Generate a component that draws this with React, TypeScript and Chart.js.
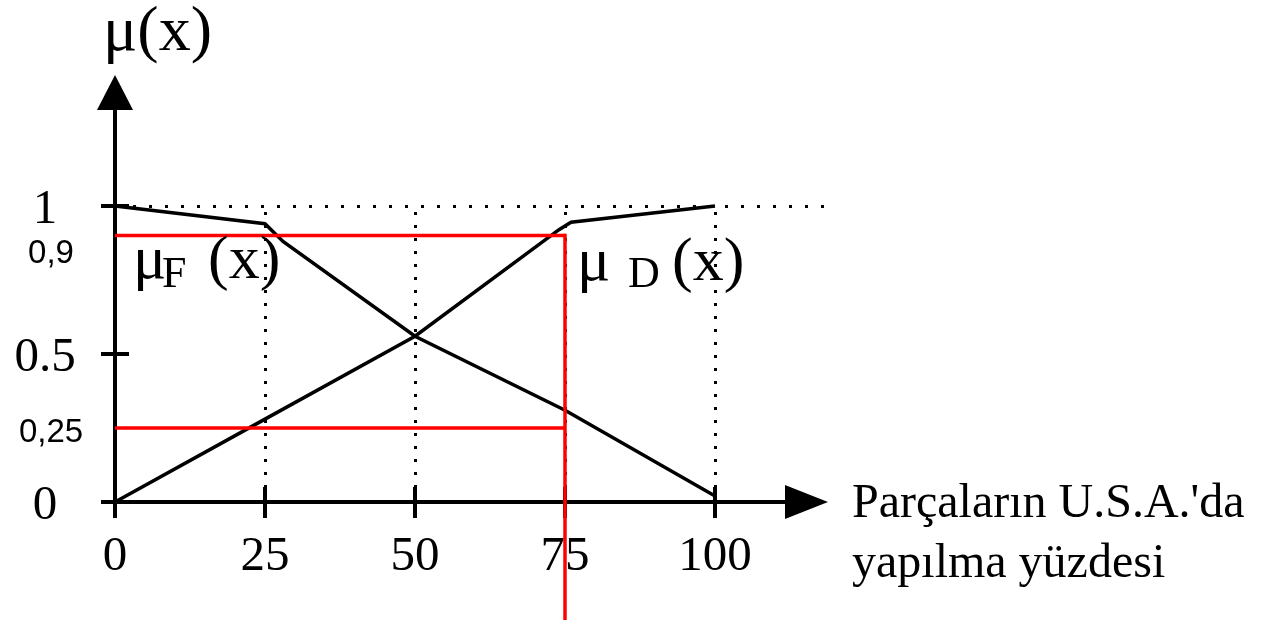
import React, { useEffect, useRef } from "react";
import { Chart, registerables } from "chart.js";

Chart.register(...registerables);

// Membership functions: share of parts made in the U.S.A. (0–100 %)
const xTicks = [0, 25, 50, 75, 100];
const yTicks = [0, 0.5, 1];
const yTickLabels = ["0", "0.5", "1"];
const guideXs = [25, 50, 75, 100];

const muFx = [0, 25, 28, 50, 75, 100];
const muFy = [1, 0.94, 0.88, 0.56, 0.31, 0.02];

const muDx = [0, 25, 50, 74, 76, 100];
const muDy = [0, 0.28, 0.56, 0.92, 0.945, 1];

const markX = 75;
const markLevels = [0.9, 0.25];
const markLabels = ["0,9", "0,25"];

const SERIF = "'Liberation Serif', 'Times New Roman', serif";
const SANS = "'Liberation Sans', Arial, sans-serif";

const toPoints = (xs: number[], ys: number[]) => xs.map((x, i) => ({ x, y: ys[i] }));

const axesPlugin = {
  id: "fuzzyAxes",
  beforeDatasetsDraw(chart: any) {
    const { ctx } = chart;
    const xs = chart.scales.x;
    const ys = chart.scales.y;
    const x0 = Math.round(xs.getPixelForValue(0));
    const y0 = Math.round(ys.getPixelForValue(0));
    const y1 = Math.round(ys.getPixelForValue(1));
    const arrowTipX = 828;
    const arrowTipY = 75;

    ctx.save();
    ctx.fillStyle = "#000";

    // dotted level line at μ = 1
    for (let px = x0 + 18; px < arrowTipX; px += 16) ctx.fillRect(px, y1 - 1, 3, 3);

    // dotted verticals at the tick positions
    guideXs.forEach((gx) => {
      const px = Math.round(xs.getPixelForValue(gx));
      for (let py = y1 + 6; py < y0 - 4; py += 13) ctx.fillRect(px - 1, py, 3, 3);
    });

    // axes
    ctx.strokeStyle = "#000";
    ctx.lineWidth = 4;
    ctx.lineCap = "butt";
    ctx.beginPath();
    ctx.moveTo(x0, y0 + 16);
    ctx.lineTo(x0, arrowTipY + 34);
    ctx.moveTo(x0 - 14, y0);
    ctx.lineTo(arrowTipX - 42, y0);
    ctx.stroke();

    // arrow heads
    ctx.beginPath();
    ctx.moveTo(x0, arrowTipY);
    ctx.lineTo(x0 - 18, arrowTipY + 35);
    ctx.lineTo(x0 + 18, arrowTipY + 35);
    ctx.closePath();
    ctx.fill();
    ctx.beginPath();
    ctx.moveTo(arrowTipX, y0);
    ctx.lineTo(arrowTipX - 43, y0 - 17);
    ctx.lineTo(arrowTipX - 43, y0 + 17);
    ctx.closePath();
    ctx.fill();

    // tick marks
    ctx.beginPath();
    yTicks.forEach((v) => {
      const py = ys.getPixelForValue(v);
      ctx.moveTo(x0 - 14, py);
      ctx.lineTo(x0 + 14, py);
    });
    xTicks.forEach((v) => {
      const px = xs.getPixelForValue(v);
      ctx.moveTo(px, y0 - 15);
      ctx.lineTo(px, y0 + 16);
    });
    ctx.stroke();

    // tick labels
    ctx.font = `49px ${SERIF}`;
    ctx.textAlign = "center";
    ctx.textBaseline = "alphabetic";
    xTicks.forEach((v) => {
      ctx.fillText(String(v), xs.getPixelForValue(v), y0 + 68);
    });
    yTicks.forEach((v, i) => {
      ctx.fillText(yTickLabels[i], x0 - 70, ys.getPixelForValue(v) + 17);
    });

    // labels of the red levels
    ctx.font = `33px ${SANS}`;
    const offsets = [27, 14];
    markLevels.forEach((lvl, i) => {
      ctx.fillText(markLabels[i], x0 - 64, ys.getPixelForValue(lvl) + offsets[i]);
    });
    ctx.restore();
  },
  afterDatasetsDraw(chart: any) {
    const { ctx } = chart;
    const xs = chart.scales.x;
    const ys = chart.scales.y;
    ctx.save();

    // red vertical at x = 75, running past the axis to the bottom edge
    const px = xs.getPixelForValue(markX);
    ctx.strokeStyle = "#ff0000";
    ctx.lineWidth = 3.5;
    ctx.beginPath();
    ctx.moveTo(px, ys.getPixelForValue(Math.max(...markLevels)) - 1.75);
    ctx.lineTo(px, chart.height - 3);
    ctx.stroke();

    ctx.fillStyle = "#000";
    ctx.textAlign = "left";
    ctx.textBaseline = "alphabetic";

    // axis names
    ctx.font = `64px ${SERIF}`;
    ctx.fillText("μ(x)", 103, 50);

    ctx.font = `48px ${SERIF}`;
    ctx.fillText("Parçaların U.S.A.'da", 852, 517);
    ctx.fillText("yapılma yüzdesi", 852, 577);

    // curve names
    const big = `62px ${SERIF}`;
    const sub = `44px ${SERIF}`;
    ctx.font = big;
    ctx.fillText("μ", 133, 278);
    ctx.fillText("(x)", 208, 278);
    ctx.fillText("μ", 577, 280);
    ctx.fillText("(x)", 672, 280);
    ctx.font = sub;
    ctx.fillText("F", 162, 287);
    ctx.fillText("D", 628, 287);

    ctx.restore();
  },
};

export default function App() {
  const canvasRef = useRef<HTMLCanvasElement | null>(null);

  useEffect(() => {
    const canvas = canvasRef.current;
    if (!canvas) return;
    const W = 1267;
    const H = 623;
    const chart = new Chart(canvas, {
      type: "line",
      data: {
        datasets: [
          {
            label: "μF(x)",
            data: toPoints(muFx, muFy),
            borderColor: "#000",
            borderWidth: 3.5,
            pointRadius: 0,
            tension: 0,
            clip: false,
            order: 2,
          },
          {
            label: "μD(x)",
            data: toPoints(muDx, muDy),
            borderColor: "#000",
            borderWidth: 3.5,
            pointRadius: 0,
            tension: 0,
            clip: false,
            order: 2,
          },
          ...markLevels.map((lvl, i) => ({
            label: markLabels[i],
            data: [
              { x: 0, y: lvl },
              { x: markX, y: lvl },
            ],
            borderColor: "#ff0000",
            borderWidth: 3.5,
            pointRadius: 0,
            tension: 0,
            clip: false,
            order: 1,
          })),
        ],
      },
      options: {
        responsive: false,
        animation: false,
        events: [],
        layout: {
          padding: { left: 115, right: W - 715, top: 206, bottom: H - 502 },
        },
        scales: {
          x: { type: "linear", min: 0, max: 100, display: false },
          y: { type: "linear", min: 0, max: 1, display: false },
        },
        plugins: {
          legend: { display: false },
          tooltip: { enabled: false },
        },
      },
      plugins: [axesPlugin],
    });
    return () => chart.destroy();
  }, []);

  return (
    <div
      style={{
        position: "fixed",
        left: 0,
        top: 0,
        width: 1267,
        height: 623,
        background: "#fff",
      }}
    >
      <canvas ref={canvasRef} width={1267} height={623} style={{ display: "block" }} />
    </div>
  );
}
